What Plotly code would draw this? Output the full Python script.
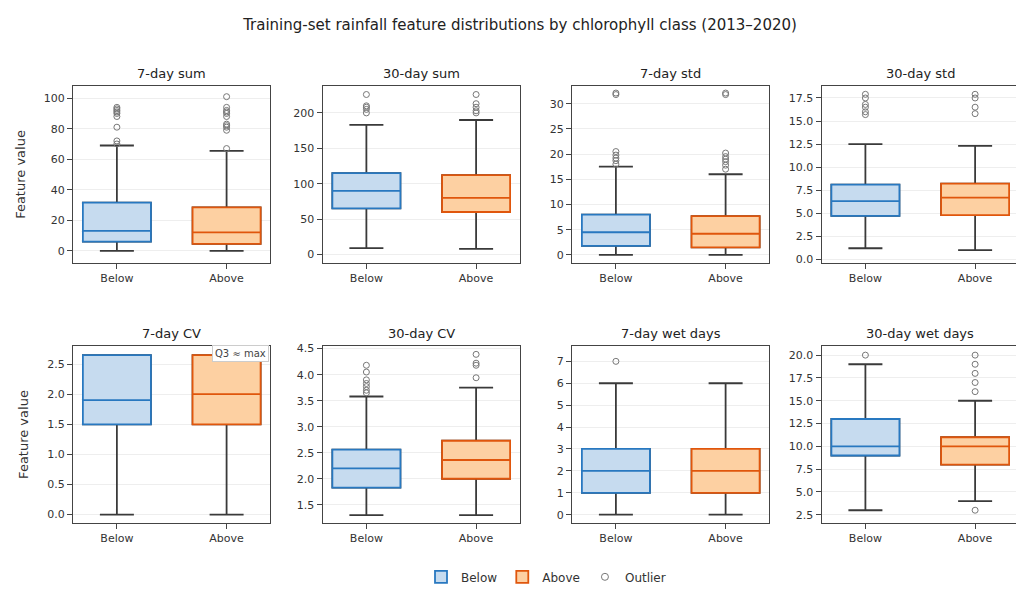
import plotly.graph_objects as go
from plotly.subplots import make_subplots

# Panel titles and precomputed box stats: (q1, median, q3, lower whisker, upper whisker)
titles = ["7-day sum", "30-day sum", "7-day std", "30-day std",
          "7-day CV", "30-day CV", "7-day wet days", "30-day wet days"]

below_stats = [(6, 13, 31.5, 0, 69), (65, 90, 115, 9, 183), (1.8, 4.5, 8, 0, 17.5),
               (4.7, 6.3, 8.1, 1.2, 12.5), (1.5, 1.9, 2.65, 0, 2.65),
               (1.83, 2.2, 2.56, 1.3, 3.58), (1, 2, 3, 0, 6), (9, 10, 13, 3, 19)]
above_stats = [(4.5, 12, 28.5, 0, 65.5), (60, 80, 112, 8, 190), (1.5, 4.2, 7.7, 0, 16),
               (4.8, 6.7, 8.2, 1, 12.3), (1.5, 2.0, 2.65, 0, 2.65),
               (2.0, 2.36, 2.73, 1.3, 3.75), (1, 2, 3, 0, 6), (8, 10, 11, 4, 15)]

below_out = [[70, 72, 81, 88, 90, 91, 92, 93, 94], [200, 205, 208, 210, 226],
             [18, 18.7, 19.2, 19.8, 20.5, 31.8, 32.1], [15.7, 16, 16.5, 16.8, 17.5, 17.9],
             [], [3.65, 3.7, 3.77, 3.83, 3.9, 4.05, 4.18], [7], [20]]
above_out = [[67, 79, 81, 82, 83, 88, 90, 91, 92, 94, 101], [200, 203, 208, 213, 226],
             [17, 17.8, 18.5, 19, 19.5, 20.2, 31.8, 32.1], [15.8, 16.5, 17.5, 17.9],
             [], [3.94, 4.18, 4.22, 4.39], [], [3, 16, 17, 18, 19, 20]]

y_ranges = [(-8, 108), (-12, 238), (-1.6, 33.5), (-0.4, 18.8),
            (-0.14, 2.8), (1.15, 4.55), (-0.38, 7.7), (1.6, 21)]
y_dticks = [20, 50, 5, 2.5, 0.5, 0.5, 1, 2.5]
y_formats = ["d", "d", "d", ".1f", ".1f", ".1f", "d", ".1f"]

blue_line, blue_fill = "#2878c0", "#c6dbef"
orange_line, orange_fill = "#e0560c", "#fdd0a2"
whisker_col = "#3a3a3a"

fig = make_subplots(rows=2, cols=4, subplot_titles=titles,
                    horizontal_spacing=0.055, vertical_spacing=0.19)

for i in range(8):
    r, c = i // 4 + 1, i % 4 + 1
    for name, st, outs, lc, fc in [("Below", below_stats[i], below_out[i], blue_line, blue_fill),
                                   ("Above", above_stats[i], above_out[i], orange_line, orange_fill)]:
        q1, med, q3, lo, hi = st
        # dark whiskers underneath
        fig.add_trace(go.Box(x=[name], q1=[q1], median=[med], q3=[q3],
                             lowerfence=[lo], upperfence=[hi], name=name,
                             fillcolor=fc, line=dict(color=whisker_col, width=1.8),
                             whiskerwidth=0.5, width=0.62, boxpoints=False,
                             showlegend=False, hoverinfo="skip"),
                      row=r, col=c)
        # coloured box on top
        fig.add_trace(go.Box(x=[name], q1=[q1], median=[med], q3=[q3],
                             lowerfence=[q1], upperfence=[q3], name=name,
                             fillcolor=fc, line=dict(color=lc, width=1.8),
                             whiskerwidth=0, width=0.62, boxpoints=False,
                             showlegend=(i == 0), legendgroup=name),
                      row=r, col=c)
        if outs:
            fig.add_trace(go.Scatter(x=[name] * len(outs), y=outs, mode="markers",
                                     marker=dict(symbol="circle-open", size=6, color="#777"),
                                     showlegend=False, hoverinfo="y"),
                          row=r, col=c)
    fig.update_yaxes(range=list(y_ranges[i]), dtick=y_dticks[i],
                     tickformat=y_formats[i], row=r, col=c)

# legend entry for outliers
fig.add_trace(go.Scatter(x=[None], y=[None], mode="markers", name="Outlier",
                         marker=dict(symbol="circle-open", size=7, color="#777")),
              row=1, col=1)

fig.update_xaxes(showline=True, mirror=True, linecolor="#444", linewidth=1,
                 ticks="outside", tickcolor="#444", showgrid=False,
                 categoryorder="array", categoryarray=["Below", "Above"])
fig.update_yaxes(showline=True, mirror=True, linecolor="#444", linewidth=1,
                 ticks="outside", tickcolor="#444", showgrid=True, gridcolor="#eeeeee",
                 zeroline=False)
fig.update_yaxes(title_text="Feature value", row=1, col=1)
fig.update_yaxes(title_text="Feature value", row=2, col=1)

# note on the 7-day CV panel
fig.add_annotation(xref="x5 domain", yref="y5 domain", x=0.99, y=0.955,
                   text="Q3 ≈ max", showarrow=False, xanchor="right", yanchor="middle",
                   font=dict(size=10, color="#444"), bgcolor="white",
                   bordercolor="#ccc", borderwidth=1, borderpad=2)

for a in fig.layout.annotations:
    if a.text in titles:
        a.font = dict(size=13, color="#222")
        a.yshift = 3

fig.update_layout(
    width=1024, height=595,
    title=dict(text="Training-set rainfall feature distributions by chlorophyll class (2013–2020)",
               x=0.5, y=0.98, font=dict(size=15, color="#222")),
    font=dict(family="DejaVu Sans", size=11, color="#333"),
    plot_bgcolor="white", paper_bgcolor="white",
    margin=dict(l=52, r=12, t=78, b=68),
    legend=dict(orientation="h", x=0.5, xanchor="center", y=-0.09, yanchor="top",
                font=dict(size=12)),
)

fig.write_html("out.html")
